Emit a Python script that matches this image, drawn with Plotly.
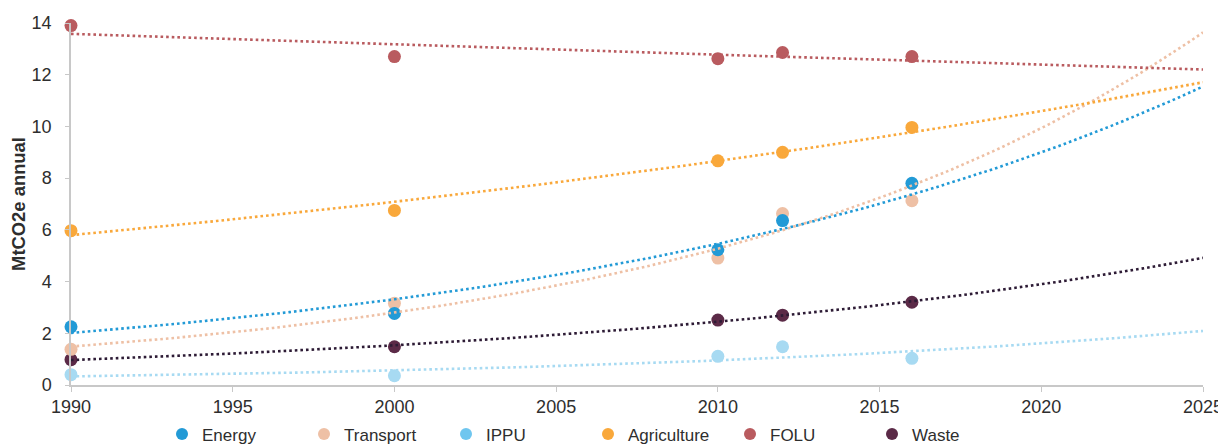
import numpy as np
import plotly.graph_objects as go

# values (MtCO2e per year)
years = [1990, 2000, 2010, 2012, 2016]
energy = [2.25, 2.77, 5.23, 6.36, 7.80]
transport = [1.38, 3.16, 4.91, 6.63, 7.13]
ippu = [0.40, 0.36, 1.11, 1.48, 1.03]
agriculture = [5.97, 6.75, 8.67, 9.00, 9.96]
folu = [13.90, 12.70, 12.62, 12.86, 12.70]
waste = [0.98, 1.48, 2.51, 2.70, 3.20]

trend_start, trend_end = 1990, 2025
x_ticks = list(range(1990, 2026, 5))
y_ticks = list(range(0, 15, 2))

FONT = "Liberation Sans, Arial, sans-serif"

# name, values, marker colour, trend colour, legend colour
series = [
    ("Energy", energy, "#229ad6", "#229ad6", "#229ad6"),
    ("Transport", transport, "#eec0a5", "#eec0a5", "#eec0a5"),
    ("IPPU", ippu, "#a7daf2", "#a7daf2", "#6fc6ef"),
    ("Agriculture", agriculture, "#f9a83b", "#f9a83b", "#f9a83b"),
    ("FOLU", folu, "#b95b5f", "#b95b5f", "#b95b5f"),
    ("Waste", waste, "#5b2a47", "#2d1b35", "#5b2a47"),
]


def exp_trend(xs, ys):
    """Exponential trendline (least squares on log values), like a spreadsheet trendline."""
    b, a = np.polyfit(np.array(xs) - trend_start, np.log(ys), 1)
    tx = np.linspace(trend_start, trend_end, 141)
    return tx, np.exp(a + b * (tx - trend_start))


fig = go.Figure()

# markers first (energy over transport), trendlines drawn on top
draw_order = ["IPPU", "Waste", "Agriculture", "FOLU", "Transport", "Energy"]
lookup = {s[0]: s for s in series}
for name in draw_order:
    _, vals, mcol, _, _ = lookup[name]
    fig.add_trace(go.Scatter(
        x=years, y=vals, mode="markers", showlegend=False, cliponaxis=False,
        marker=dict(size=13, color=mcol), hoverinfo="x+y", name=name))

for name, vals, _, tcol, _ in series:
    tx, ty = exp_trend(years, vals)
    fig.add_trace(go.Scatter(
        x=tx, y=ty, mode="lines", showlegend=False, hoverinfo="skip",
        line=dict(color=tcol, width=2.6, dash="2.6px,3px")))

# legend entries
for name, _, _, _, lcol in series:
    fig.add_trace(go.Scatter(
        x=[None], y=[None], mode="markers", name=name,
        marker=dict(size=13, color=lcol)))

axis_style = dict(
    showline=True, linecolor="#c8c8c8", linewidth=1.5,
    ticks="outside", tickcolor="#c8c8c8", tickwidth=1,
    showgrid=False, zeroline=False, automargin=False,
    tickfont=dict(family=FONT, size=18, color="#2e2e2e"),
)

# the page body keeps an 8px margin, so the figure is 8px smaller each way
fig.update_layout(
    width=1218, height=437,
    margin=dict(l=63, r=23, t=15, b=60, autoexpand=False),
    paper_bgcolor="white", plot_bgcolor="white",
    font=dict(family=FONT, color="#2e2e2e"),
    xaxis=dict(range=[trend_start, trend_end], tickvals=x_ticks, ticklen=5, **axis_style),
    yaxis=dict(range=[0, 14], tickvals=y_ticks, ticklen=4, ticklabelstandoff=10,
               title=dict(text="MtCO2e annual", standoff=7,
                          font=dict(family=FONT, size=18.4, color="#2e2e2e", weight="bold")),
               **axis_style),
    legend=dict(orientation="h", x=0.0804, xanchor="left",
                yref="container", y=0.024, yanchor="middle",
                font=dict(family=FONT, size=17, color="#2e2e2e"),
                entrywidth=97, itemsizing="constant", bgcolor="rgba(0,0,0,0)"),
)

fig.write_html("out.html")
